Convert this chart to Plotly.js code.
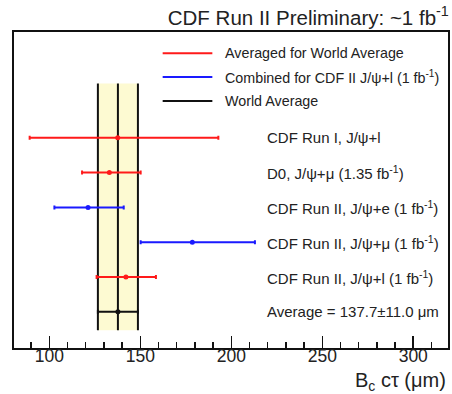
<!DOCTYPE html>
<html>
<head>
<meta charset="utf-8">
<script src="https://cdn.plot.ly/plotly-3.0.1.min.js"></script>
<style>html,body{margin:0;padding:0;background:#fff;}#chart{width:452px;height:394px;}</style>
</head>
<body>
<div id="chart"></div>
<script>
// ---- data ----
const labels = [
  "CDF Run I, J/\u03c8+l",
  "D0, J/\u03c8+\u03bc (1.35 fb<sup>-1</sup>)",
  "CDF Run II, J/\u03c8+e (1 fb<sup>-1</sup>)",
  "CDF Run II, J/\u03c8+\u03bc (1 fb<sup>-1</sup>)",
  "CDF Run II, J/\u03c8+l (1 fb<sup>-1</sup>)",
  "Average = 137.7\u00b111.0 \u03bcm"
];
const rows      = [5, 4, 3, 2, 1, 0];
const values    = [137.6, 133.0, 121.3, 178.6, 142.1, 137.7];
const errPlus   = [55.3, 17.2, 19.6, 34.4, 16.5, 11.0];
const errMinus  = [48.4, 15.0, 18.5, 28.4, 16.1, 11.0];
const groups    = ["world", "world", "cdf2", "cdf2", "world", "avg"];
const worldAvg  = 137.7;
const worldErr  = 11.0;
const bandRows  = [-0.53, 6.56];
const legendNames = ["Averaged for World Average", "Combined for CDF II J/\u03c8+l (1 fb<sup>-1</sup>)", "World Average"];
const legendGroups = ["world", "cdf2", "avg"];
const legendRows = [7.43, 6.75, 6.06];
const legendX = [162.3, 189.6, 195.3];
const xTicks = [100, 150, 200, 250, 300];

const colors = {world: "#ff1a1a", cdf2: "#1a1aff", avg: "#111111"};
const FONT = "Liberation Sans, Arial, sans-serif";

const traces = [];
// band
const lo = worldAvg - worldErr, hi = worldAvg + worldErr;
traces.push({
  x: [lo, hi, hi, lo, lo], y: [bandRows[0], bandRows[0], bandRows[1], bandRows[1], bandRows[0]],
  mode: "lines", fill: "toself", fillcolor: "#fdfad2", line: {width: 0}, hoverinfo: "skip"
});
[lo, worldAvg, hi].forEach(v => traces.push({
  x: [v, v], y: bandRows, mode: "lines", line: {color: "#111", width: 2}, hoverinfo: "skip"
}));
// measurements
["world", "cdf2", "avg"].forEach(g => {
  const idx = groups.map((gg, i) => gg === g ? i : -1).filter(i => i >= 0);
  traces.push({
    x: idx.map(i => values[i]), y: idx.map(i => rows[i]),
    mode: "markers", type: "scatter",
    marker: {color: colors[g], size: 5},
    error_x: {type: "data", symmetric: false, array: idx.map(i => errPlus[i]), arrayminus: idx.map(i => errMinus[i]),
              color: colors[g], thickness: 2, width: 2}
  });
});

const annotations = labels.map((t, i) => ({
  x: 218.5, y: rows[i], xref: "x", yref: "y", text: t, showarrow: false,
  xanchor: "left", yanchor: "middle", font: {size: 15, color: "#222", family: FONT}
}));
legendNames.forEach((t, i) => annotations.push({
  x: legendX[2], y: legendRows[i], xref: "x", yref: "y", text: t, showarrow: false,
  xanchor: "left", yanchor: "middle", font: {size: 14.3, color: "#222", family: FONT}
}));
annotations.push({
  x: 1, y: -0.106, xref: "paper", yref: "paper", text: "B<sub>c</sub> c\u03c4 (\u03bcm)", showarrow: false,
  xanchor: "right", yanchor: "middle", font: {size: 20, color: "#222", family: FONT}
});
const shapes = legendGroups.map((g, i) => ({
  type: "line", xref: "x", yref: "y", x0: legendX[0], x1: legendX[1], y0: legendRows[i], y1: legendRows[i],
  line: {color: colors[g], width: 2}
}));

const layout = {
  width: 452, height: 394,
  margin: {l: 14, r: 4, t: 32, b: 46},
  paper_bgcolor: "#fff", plot_bgcolor: "#fff",
  showlegend: false,
  title: {text: "CDF Run II Preliminary: ~1 fb<sup>-1</sup>", x: 0.993, xanchor: "right", xref: "container",
          y: 0.955, yanchor: "middle", yref: "container",
          font: {size: 20.5, color: "#222", family: FONT}},
  xaxis: {range: [80.6, 319.1], tickvals: xTicks, ticks: "inside", ticklen: 12, tickwidth: 1.5, tickcolor: "#111",
          minor: {dtick: 10, tick0: 0, ticks: "inside", ticklen: 6, tickwidth: 1.5, tickcolor: "#111", showgrid: false},
          showline: true, mirror: true, linecolor: "#111", linewidth: 2, showgrid: false, zeroline: false,
          ticklabelstandoff: -9,
          tickfont: {size: 17.5, color: "#222", family: FONT}},
  yaxis: {range: [-1.04, 8.04], showticklabels: false, ticks: "", showline: true, mirror: true,
          linecolor: "#111", linewidth: 2, showgrid: false, zeroline: false},
  annotations: annotations, shapes: shapes
};
Plotly.newPlot("chart", traces, layout, {displayModeBar: false, staticPlot: true});
</script>
</body>
</html>
